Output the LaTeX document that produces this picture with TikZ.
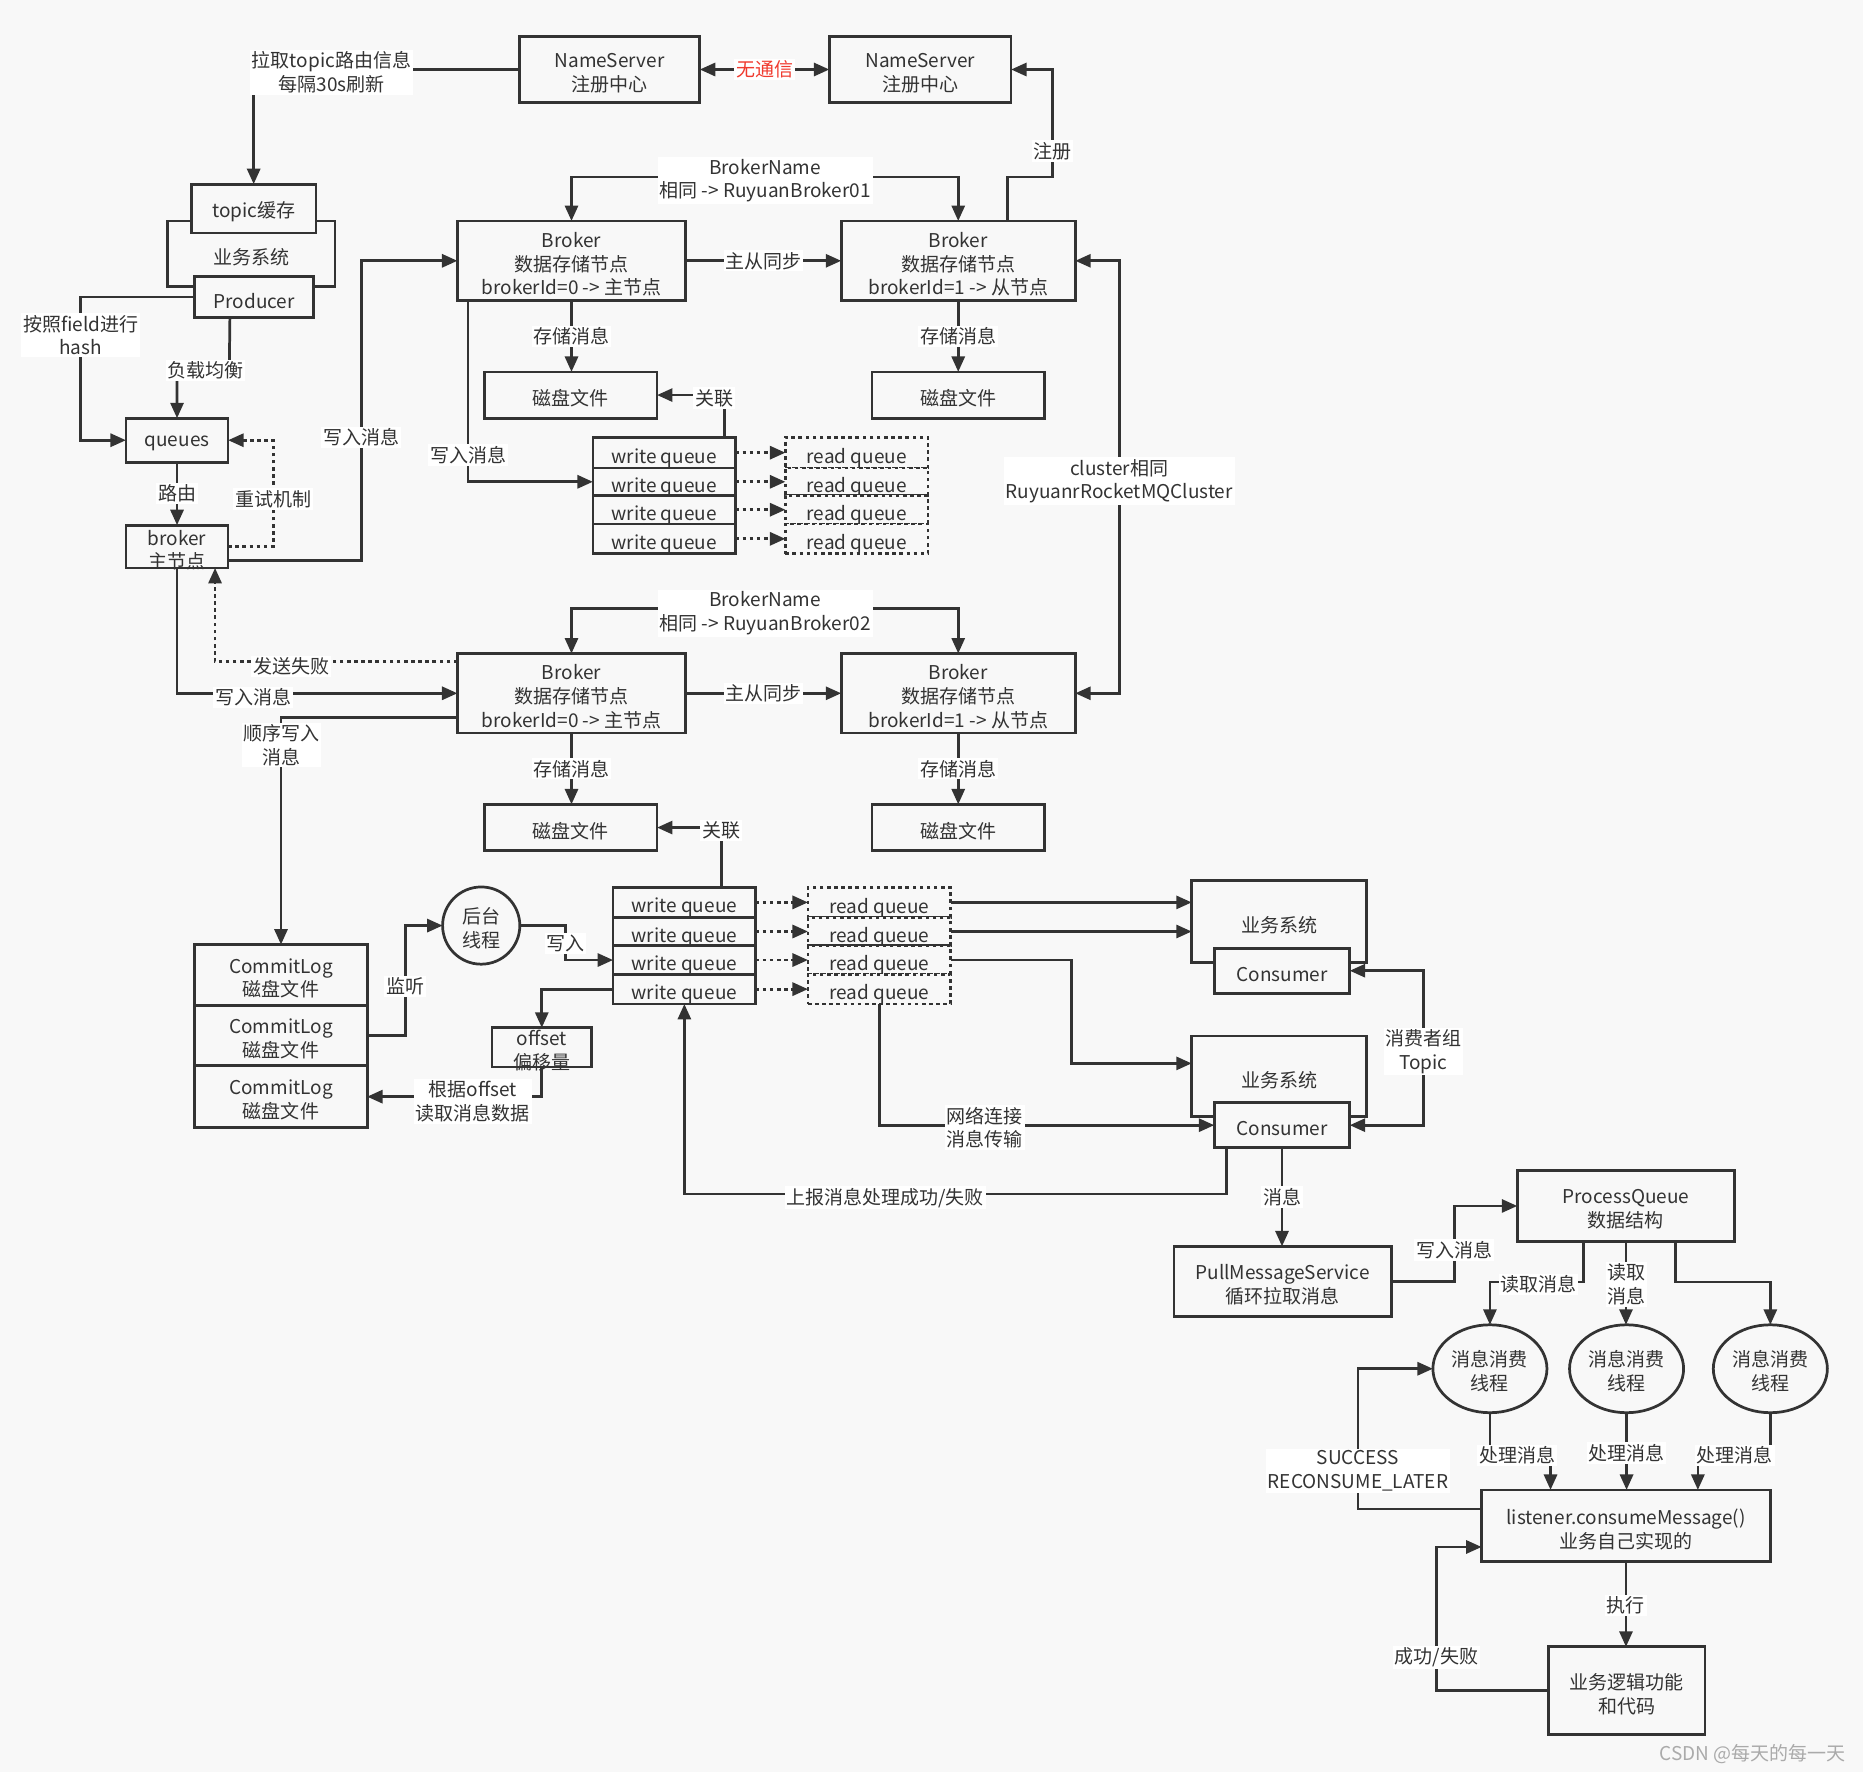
\documentclass[tikz,border=0pt]{standalone}
\usepackage{fontspec}
\setmainfont{Noto Sans CJK SC}
\usetikzlibrary{arrows.meta,shapes.geometric}
\definecolor{lc}{HTML}{333333}
\definecolor{bgc}{HTML}{F8F8F8}
\definecolor{redt}{HTML}{F03A2E}
\definecolor{wmc}{HTML}{AAAAAA}
\def\tsh{-3pt}
\newcommand\mybox[7][]{\node[box,minimum width={(#5-#3)*1pt},minimum height={(#6-#4)*1pt},#1] (#2) at ({(#3+#5)/2},{(#4+#6)/2}) {};
 \node[txt] (#2-t) at ([yshift=\tsh]#2.center) {#7};}
\begin{document}
\begin{tikzpicture}[x=1pt,y=-1pt,font=\fontsize{16}{20}\selectfont,
 box/.style={draw=lc,line width=2.3pt,fill=bgc,align=center,inner sep=0pt,outer sep=0pt,text=lc},
 lbl/.style={fill=white,inner sep=1.5pt,align=center,text=lc},
 txt/.style={align=center,text=lc,inner sep=0pt},
 arr/.style={draw=lc,line width=2.3pt,-{Triangle[length=13pt,width=11pt]}},
 arr2/.style={draw=lc,line width=2.3pt,{Triangle[length=13pt,width=11pt]}-{Triangle[length=13pt,width=11pt]}},
 dots/.style={dash pattern=on 3pt off 3pt},
 ln/.style={draw=lc,line width=2.3pt}]
\fill[bgc] (0,0) rectangle (1568,1491);
\useasboundingbox (0,0) rectangle (1568,1491);

% ---------- boxes ----------
\mybox{ns1}{437}{31}{589}{86}{NameServer\\注册中心}
\mybox{ns2}{698}{31}{851}{86}{NameServer\\注册中心}
\mybox{sys0}{141}{186}{282}{241}{业务系统}
\mybox{topic}{161}{155}{266}{196}{topic缓存}
\mybox{prod}{164}{233}{264}{267}{Producer}
\mybox{queues}{106}{352}{192}{389}{queues}
\mybox{brk}{106}{442}{192}{478}{broker\\主节点}
\draw[ln] (brk.south west) -- (brk.south east);

\mybox{b1}{385}{186}{577}{253}{Broker\\数据存储节点\\brokerId=0 -> 主节点}
\mybox{b2}{708}{186}{905}{253}{Broker\\数据存储节点\\brokerId=1 -> 从节点}
\mybox{d1}{408}{313}{553}{352}{磁盘文件}
\mybox{d2}{734}{313}{879}{352}{磁盘文件}
\def\tsh{-4.5pt}
\mybox{wq1}{499}{368}{619}{394}{write queue}
\mybox{wq2}{499}{394}{619}{417}{write queue}
\mybox{wq3}{499}{417}{619}{441}{write queue}
\mybox{wq4}{499}{441}{619}{466}{write queue}
\mybox[dots]{rq1}{661}{368}{781}{394}{read queue}
\mybox[dots]{rq2}{661}{394}{781}{417}{read queue}
\mybox[dots]{rq3}{661}{417}{781}{441}{read queue}
\mybox[dots]{rq4}{661}{441}{781}{466}{read queue}
\def\tsh{-3pt}

\mybox{b3}{385}{550}{577}{617}{Broker\\数据存储节点\\brokerId=0 -> 主节点}
\mybox{b4}{708}{550}{905}{617}{Broker\\数据存储节点\\brokerId=1 -> 从节点}
\mybox{d3}{408}{677}{553}{716}{磁盘文件}
\mybox{d4}{734}{677}{879}{716}{磁盘文件}
\def\tsh{-4.5pt}
\mybox{wqb1}{516}{747}{636}{772}{write queue}
\mybox{wqb2}{516}{772}{636}{796}{write queue}
\mybox{wqb3}{516}{796}{636}{820}{write queue}
\mybox{wqb4}{516}{820}{636}{845}{write queue}
\mybox[dots]{rqb1}{680}{747}{800}{772}{read queue}
\mybox[dots]{rqb2}{680}{772}{800}{796}{read queue}
\mybox[dots]{rqb3}{680}{796}{800}{820}{read queue}
\mybox[dots]{rqb4}{680}{820}{800}{845}{read queue}
\def\tsh{-3pt}

\mybox{cl1}{164}{795}{309}{846}{CommitLog\\磁盘文件}
\mybox{cl2}{164}{846}{309}{897}{CommitLog\\磁盘文件}
\mybox{cl3}{164}{897}{309}{949}{CommitLog\\磁盘文件}
\node[box,circle,minimum size=65pt] (bgt) at (405,779) {};
\node[txt] (bgt-t) at (405,781) {后台\\线程};
\mybox{off}{414}{865}{498}{898}{offset\\偏移量}
\draw[ln] (off.south west) -- (off.south east);

\mybox{sysA}{1003}{741}{1150}{810}{业务系统}
\mybox{consA}{1022}{798}{1136}{836}{Consumer}
\mybox{sysB}{1003}{872}{1150}{940}{业务系统}
\mybox{consB}{1022}{928}{1136}{966}{Consumer}
\mybox{pull}{988}{1049}{1171}{1108}{PullMessageService\\循环拉取消息}
\mybox{pq}{1277}{985}{1460}{1045}{ProcessQueue\\数据结构}
\node[box,ellipse,minimum width=96pt,minimum height=74pt] (t1) at (1254,1152) {};
\node[box,ellipse,minimum width=96pt,minimum height=74pt] (t2) at (1369,1152) {};
\node[box,ellipse,minimum width=96pt,minimum height=74pt] (t3) at (1490,1152) {};
\node[txt] (t1-t) at (1254,1154) {消息消费\\线程};
\node[txt] (t2-t) at (1369,1154) {消息消费\\线程};
\node[txt] (t3-t) at (1490,1154) {消息消费\\线程};
\mybox{lis}{1247}{1254}{1490}{1314}{listener.consumeMessage()\\业务自己实现的}
\mybox{logic}{1303}{1386}{1435}{1460}{业务逻辑功能\\和代码}

% ---------- connectors: producer side ----------
\draw[arr] (ns1.west) -- (213.5,58.5) -- (topic.north);
\node[lbl] (l1) at (279,61) {拉取topic路由信息\\每隔30s刷新};
\draw[arr2] (ns1.east) -- (ns2.west) node[midway,lbl,text=redt] (l2) {无通信};
\draw[arr] (prod.west) -- (68,250) -- (68,370.5) -- (queues.west);
\node[lbl] (l3) at (68,282) {按照field进行\\hash};
\draw[arr] ([xshift=-20.5pt]prod.south) -- (193,311) -- (149,311) -- (queues.north);
\node[lbl] (l4) at (173,312) {负载均衡};
\draw[arr] (queues.south) -- (brk.north) node[midway,lbl] (l5) {路由};
\draw[arr,dots] (brk.east) -- (230,460) -- (230,370.5) -- (queues.east);
\node[lbl] (l6) at (230,420) {重试机制};
\draw[arr] ([yshift=-12pt]brk.east) -- (304,472) -- (304,219.5) -- (b1.west);
\node[lbl] (l7) at (304,368) {写入消息};

% ---------- broker group 1 ----------
\draw[arr2] (b1.north) -- (481,149) -- (806.5,149) -- (b2.north);
\node[lbl] (l8) at (644,152) {BrokerName\\相同 -> RuyuanBroker01};
\draw[arr] (b1.east) -- (b2.west) node[midway,lbl] (l9) {主从同步};
\draw[arr] ([xshift=41.5pt]b2.north) -- (848,149) -- (886,149) -- (886,58.5) -- (ns2.east);
\node[lbl] (l10) at (886,127) {注册};
\draw[arr] (b1.south) -- (b1.south |- d1.north) node[midway,lbl] (l11) {存储消息};
\draw[arr] (b2.south) -- (b2.south |- d2.north) node[midway,lbl] (l12) {存储消息};
\draw[arr] ([xshift=9pt]b1.south west) -- (394,405.5) -- (wq2.west);
\node[lbl] (l13) at (394,383) {写入消息};
\foreach \i in {1,2,3,4}{\draw[arr,dots] (wq\i.east) -- (rq\i.west);}
\draw[arr] ([xshift=-9pt]wq1.north east) -- (610,332.5) -- (d1.east);
\node[lbl] (l14) at (601,335) {关联};
\draw[arr2] (b2.east) -- (942,219.5) -- (942,583.5) -- (b4.east);
\node[lbl] (l15) at (942,405) {cluster相同\\RuyuanrRocketMQCluster};

% ---------- broker group 2 ----------
\draw[arr2] (b3.north) -- (481,512) -- (806.5,512) -- (b4.north);
\node[lbl] (l16) at (644,516) {BrokerName\\相同 -> RuyuanBroker02};
\draw[arr] (b3.east) -- (b4.west) node[midway,lbl] (l17) {主从同步};
\draw[arr] (b3.south) -- (b3.south |- d3.north) node[midway,lbl] (l18) {存储消息};
\draw[arr] (b4.south) -- (b4.south |- d4.north) node[midway,lbl] (l19) {存储消息};
\draw[arr,dots] ([yshift=-7pt]b3.north west) -- (181,557) -- ([xshift=32pt]brk.south);
\node[lbl] (l20) at (245,561) {发送失败};
\draw[arr] (brk.south) -- (149,583.5) -- (b3.west);
\node[lbl] (l21) at (213,587) {写入消息};
\draw[arr] ([yshift=13pt]b3.south west) -- (236.5,604) -- (cl1.north);
\node[lbl] (l22) at (237,627) {顺序写入\\消息};
\foreach \i in {1,2,3,4}{\draw[arr,dots] (wqb\i.east) -- (rqb\i.west);}
\draw[arr] ([xshift=-29pt]wqb1.north east) -- (607,696.5) -- (d3.east);
\node[lbl] (l23) at (607,699) {关联};

% ---------- consumers ----------
\draw[arr] (rqb1.east) -- (rqb1.east -| sysA.west);
\draw[arr] (rqb2.east) -- (rqb2.east -| sysA.west);
\draw[arr] (rqb3.east) -- (902,808) -- (902,895) -- ([yshift=-23pt]sysB.north west);
\draw[arr] (rqb4.south) -- (740,947) -- (consB.west);
\node[lbl] (l24) at (829,949) {网络连接\\消息传输};
\draw[arr2] (consA.east) -- (1198,817) -- (1198,947) -- (consB.east);
\node[lbl] (l25) at (1198,885) {消费者组\\Topic};
\draw[arr] (consB.south) -- (consB.south |- pull.north) node[midway,lbl] (l26) {消息};
\draw[arr] ([xshift=-47pt]consB.south) -- (1032,1005) -- (576,1005) -- (wqb4.south);
\node[lbl] (l27) at (745,1008) {上报消息处理成功/失败};

% ---------- commitlog ----------
\draw[arr] (cl2.east) -- (341,871.5) -- (341,779) -- (bgt.west);
\node[lbl] (l28) at (341,830) {监听};
\draw[arr] (bgt.east) -- (476,779) -- (476,808) -- (wqb3.west);
\node[lbl] (l29) at (476,794) {写入};
\draw[arr] (wqb4.west) -- (456,832.5) -- (off.north);
\draw[arr] (off.south) -- (456,923) -- (cl3.east);
\node[lbl] (l30) at (398,927) {根据offset\\读取消息数据};

% ---------- process queue ----------
\draw[arr] (pull.east) -- (1224,1078.5) -- (1224,1015) -- (pq.west);
\node[lbl] (l31) at (1224,1052) {写入消息};
\draw[arr] ([xshift=-35.5pt]pq.south) -- (1333,1079) -- (1254,1079) -- (t1.north);
\node[lbl] (l32) at (1295,1081) {读取消息};
\draw[arr] (pq.south) -- (pq.south |- t2.north);
\node[lbl] (l33) at (1369,1081) {读取\\消息};
\draw[arr] ([xshift=41.5pt]pq.south) -- (1410,1079) -- (1490,1079) -- (t3.north);
\draw[arr] (t1.south) -- (1254,1224) -- (1305,1224) -- ([xshift=58pt]lis.north west);
\node[lbl] (l34) at (1277,1225) {处理消息};
\draw[arr] (t2.south) -- (t2.south |- lis.north);
\node[lbl] (l35) at (1369,1223) {处理消息};
\draw[arr] (t3.south) -- (1490,1224) -- (1429,1224) -- ([xshift=-61pt]lis.north east);
\node[lbl] (l36) at (1460,1225) {处理消息};
\draw[arr] ([yshift=-16pt]lis.north west) -- (1143,1270) -- (1143,1152) -- (t1.west);
\node[lbl] (l37) at (1143,1238) {SUCCESS\\RECONSUME\_LATER};
\draw[arr] (lis.south) -- (lis.south |- logic.north) node[midway,lbl,yshift=-1pt] (l38) {执行};
\draw[arr] (logic.west) -- (1209,1423) -- (1209,1302) -- ([yshift=12pt]lis.south west);
\node[lbl] (l39) at (1209,1395) {成功/失败};
\node[text=wmc] (wm) at (1475,1476) {CSDN @每天的每一天};
\end{tikzpicture}
\end{document}
